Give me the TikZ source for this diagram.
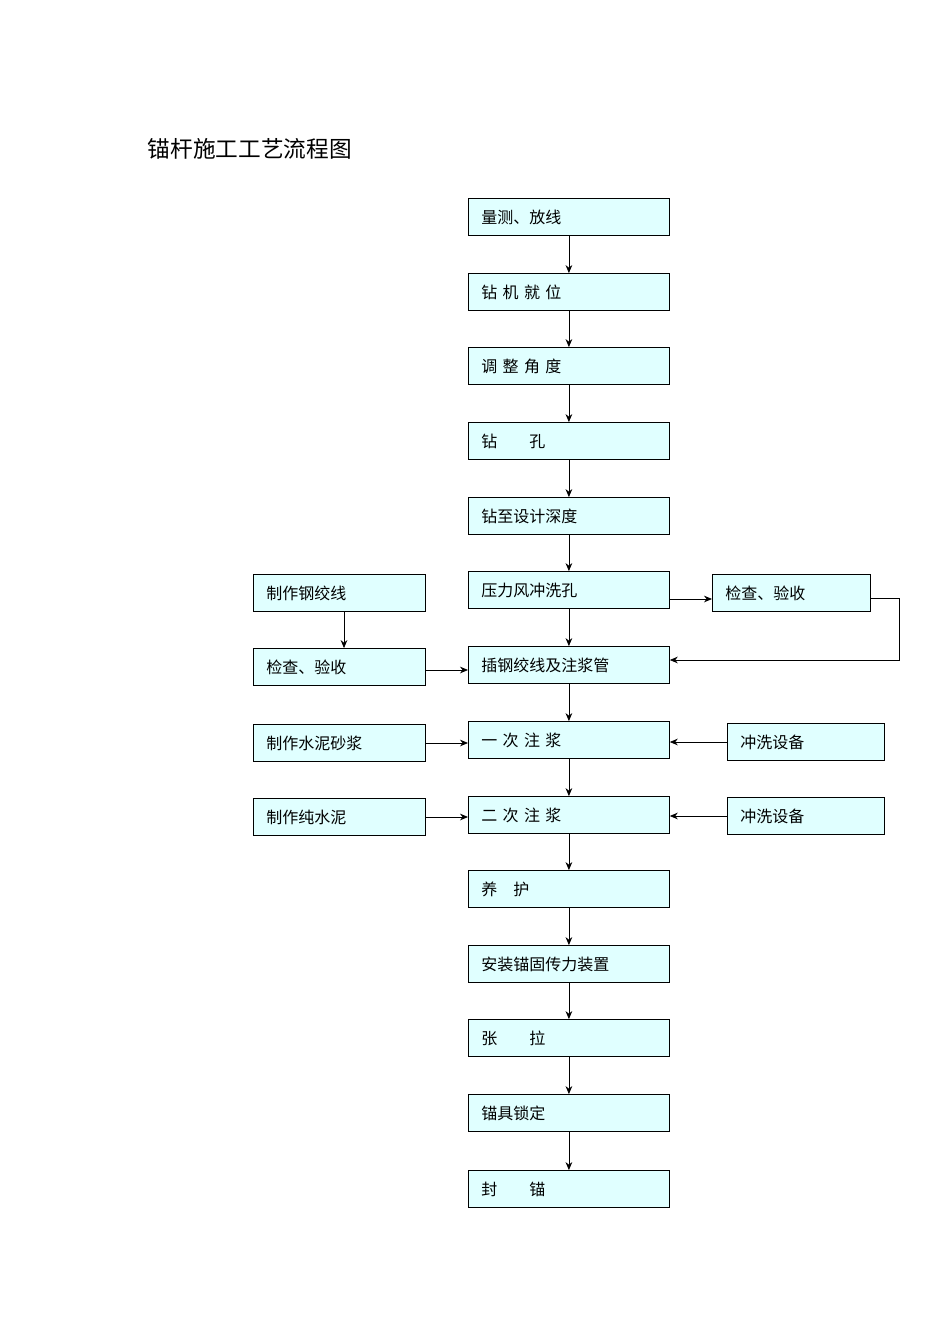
\documentclass[tikz,border=0pt]{standalone}
\usepackage{fontspec}
\newfontfamily\cjk{Noto Sans CJK SC}
\usetikzlibrary{arrows.meta}
\definecolor{boxfill}{HTML}{E0FFFF}
\begin{document}
\begin{tikzpicture}[x=0.75pt,y=-0.75pt,
  bx/.style={draw,fill=boxfill,line width=0.6pt,minimum height=37*0.75pt,inner xsep=13*0.75pt,align=left,font=\cjk\fontsize{12}{14}\selectfont,anchor=west,text width=0pt},
  ar/.style={-{Stealth[length=6pt,width=5pt]},line width=0.6pt}]
\useasboundingbox (0,0) rectangle (950,1344);
\node[font=\cjk\fontsize{17}{20}\selectfont,anchor=west] (title) at (143,149) {锚杆施工工艺流程图};
\tikzset{mb/.style={bx,minimum width=201*0.75pt,text width=175*0.75pt}}
\node[mb] (m1) at (468,217) {量测、放线};
\node[mb] (m2) at (468,292) {钻\ 机\ 就\ 位};
\node[mb] (m3) at (468,366) {调\ 整\ 角\ 度};
\node[mb] (m4) at (468,441) {钻\qquad 孔};
\node[mb] (m5) at (468,516) {钻至设计深度};
\node[mb] (m6) at (468,590) {压力风冲洗孔};
\node[mb] (m7) at (468,665) {插钢绞线及注浆管};
\node[mb] (m8) at (468,740) {一\ 次\ 注\ 浆};
\node[mb] (m9) at (468,815) {二\ 次\ 注\ 浆};
\node[mb] (m10) at (468,889) {养\quad 护};
\node[mb] (m11) at (468,964) {安装锚固传力装置};
\node[mb] (m12) at (468,1038) {张\qquad 拉};
\node[mb] (m13) at (468,1113) {锚具锁定};
\node[mb] (m14) at (468,1189) {封\qquad 锚};
\tikzset{lb/.style={bx,minimum width=172*0.75pt,text width=146*0.75pt}}
\node[lb] (l1) at (253,593) {制作钢绞线};
\node[lb] (l2) at (253,667) {检查、验收};
\node[lb] (l3) at (253,743) {制作水泥砂浆};
\node[lb] (l4) at (253,817) {制作纯水泥};
\node[bx,minimum width=158*0.75pt,text width=132*0.75pt] (r1) at (712,593) {检查、验收};
\node[bx,minimum width=157*0.75pt,text width=131*0.75pt] (r2) at (727,742) {冲洗设备};
\node[bx,minimum width=157*0.75pt,text width=131*0.75pt] (r3) at (727,816) {冲洗设备};
\foreach \a/\b in {m1/m2,m2/m3,m3/m4,m4/m5,m5/m6,m6/m7,m7/m8,m8/m9,m9/m10,m10/m11,m11/m12,m12/m13,m13/m14}
  \draw[ar] (\a.south) -- (\b.north);
\draw[ar] (m6.east |- 0,599) -- (r1.west |- 0,599);
\draw[ar] (r1.east |- 0,598) -- (899,598) -- (899,660) -- (m7.east |- 0,660);
\draw[ar] (l1.south -| 344,0) -- (l2.north -| 344,0);
\draw[ar] (l2.east |- 0,670) -- (m7.west |- 0,670);
\draw[ar] (l3.east) -- (m8.west |- l3.east);
\draw[ar] (l4.east) -- (m9.west |- l4.east);
\draw[ar] (r2.west) -- (m8.east |- r2.west);
\draw[ar] (r3.west) -- (m9.east |- r3.west);
\end{tikzpicture}
\end{document}
